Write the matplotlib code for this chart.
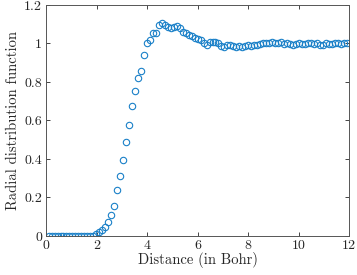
import matplotlib
matplotlib.use("Agg")
import matplotlib.pyplot as plt

plt.rcParams["font.family"] = "serif"
plt.rcParams["font.serif"] = ["cmr10"]
plt.rcParams["mathtext.fontset"] = "cm"
plt.rcParams["axes.unicode_minus"] = False

distance = [
    0.100, 0.218, 0.336, 0.454, 0.572, 0.690, 0.808, 0.926, 1.044, 1.162,
    1.280, 1.398, 1.516, 1.634, 1.752, 1.870, 1.988, 2.106, 2.224, 2.342,
    2.460, 2.578, 2.696, 2.814, 2.932, 3.050, 3.168, 3.286, 3.404, 3.522,
    3.640, 3.758, 3.876, 3.994, 4.112, 4.230, 4.348, 4.466, 4.584, 4.702,
    4.820, 4.938, 5.056, 5.174, 5.292, 5.410, 5.528, 5.646, 5.764, 5.882,
    6.000, 6.118, 6.236, 6.354, 6.472, 6.590, 6.708, 6.826, 6.944, 7.062,
    7.180, 7.298, 7.416, 7.534, 7.652, 7.770, 7.888, 8.006, 8.124, 8.242,
    8.360, 8.478, 8.596, 8.714, 8.832, 8.950, 9.068, 9.186, 9.304, 9.422,
    9.540, 9.658, 9.776, 9.894, 10.012, 10.130, 10.248, 10.366, 10.484, 10.602,
    10.720, 10.838, 10.956, 11.074, 11.192, 11.310, 11.428, 11.546, 11.664, 11.782,
    11.900,
]
rdf = [
    0.0, 0.0, 0.0, 0.0, 0.0, 0.0, 0.0, 0.0, 0.0, 0.0,
    0.0, 0.0, 0.0, 0.0, 0.0, 0.002, 0.009, 0.019, 0.031, 0.048,
    0.074, 0.109, 0.156, 0.239, 0.313, 0.395, 0.487, 0.575, 0.677, 0.755,
    0.819, 0.859, 0.939, 1.001, 1.018, 1.056, 1.056, 1.096, 1.105, 1.096,
    1.087, 1.079, 1.087, 1.090, 1.080, 1.062, 1.052, 1.046, 1.040, 1.030,
    1.022, 1.018, 1.000, 0.990, 1.005, 1.010, 1.005, 1.000, 0.985, 0.983,
    0.990, 0.990, 0.988, 0.983, 0.985, 0.983, 0.988, 0.990, 0.985, 0.990,
    0.993, 0.997, 1.000, 1.003, 1.000, 1.005, 1.002, 1.000, 1.005, 0.998,
    1.000, 0.995, 0.993, 0.997, 1.000, 0.995, 0.998, 1.002, 1.000, 0.997,
    1.003, 0.990, 0.993, 1.000, 0.995, 0.998, 1.002, 1.000, 0.998, 1.003,
    1.000,
]
xticks = [0, 2, 4, 6, 8, 10, 12]
yticks = [0, 0.2, 0.4, 0.6, 0.8, 1, 1.2]
ytick_labels = ["0", "0.2", "0.4", "0.6", "0.8", "1", "1.2"]

fig = plt.figure(figsize=(3.57, 2.75), dpi=100)
ax = fig.add_axes([0.129, 0.142, 0.849, 0.840])

ax.plot(distance, rdf, linestyle="none", marker="o", markersize=4.6,
        markerfacecolor="none", markeredgecolor="#1a80c8", markeredgewidth=0.8)

ax.set_xlim(0, 12)
ax.set_ylim(0, 1.2)
ax.set_xticks(xticks)
ax.set_xticklabels([str(t) for t in xticks])
ax.set_yticks(yticks)
ax.set_yticklabels(ytick_labels)
ax.tick_params(direction="in", top=True, right=True, length=3, width=0.6,
               colors="#262626", labelsize=10, pad=3)
for s in ax.spines.values():
    s.set_color("#555555")
    s.set_linewidth(0.7)

ax.set_xlabel("Distance (in Bohr)", fontsize=10.5, color="#262626", labelpad=0)
ax.set_ylabel("Radial distribution function", fontsize=10.5, color="#262626", labelpad=3)

fig.savefig("out.png", dpi=100)
